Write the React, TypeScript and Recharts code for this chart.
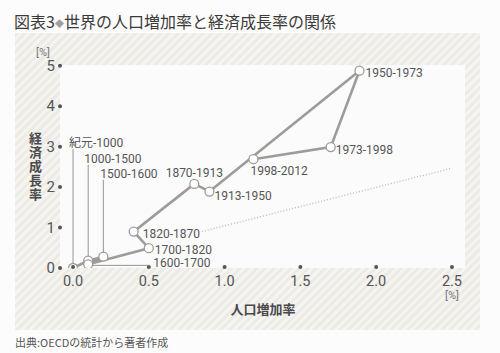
import React from 'react';
import { ComposedChart, Line, XAxis, YAxis, ReferenceArea } from 'recharts';

// 期間ごとの人口増加率・経済成長率 (%)
const PERIODS = ['紀元-1000', '1000-1500', '1500-1600', '1600-1700', '1700-1820', '1820-1870', '1870-1913', '1913-1950', '1950-1973', '1973-1998', '1998-2012'];
const POP_GROWTH = [0, 0.1, 0.2, 0.1, 0.5, 0.4, 0.8, 0.9, 1.89, 1.7, 1.19];
const GDP_GROWTH = [0, 0.18, 0.28, 0.09, 0.49, 0.9, 2.08, 1.89, 4.88, 2.99, 2.69];

// 点線（参考線）の両端
const TREND_X = [0.85, 2.5];
const TREND_Y = [0.9, 2.47];

const X_TICKS = [0, 0.5, 1, 1.5, 2, 2.5];
const Y_TICKS = [0, 1, 2, 3, 4, 5];

const X_DOMAIN: [number, number] = [-0.086, 2.586];
const Y_DOMAIN: [number, number] = [0, 5.02];

const points = PERIODS.map((period, i) => ({ period, x: POP_GROWTH[i], y: GDP_GROWTH[i] }));
const trend = TREND_X.map((x, i) => ({ x, y: TREND_Y[i] }));

// ラベルの置き方（点からのずれ）
const LABEL_PLACE: Record<string, { dx: number; dy: number; anchor?: string; leader?: 'up' | 'right'; len?: number }> = {
  '紀元-1000': { dx: -4, dy: -125, leader: 'up', len: 119 },
  '1000-1500': { dx: -4, dy: -102, leader: 'up', len: 96 },
  '1500-1600': { dx: -3, dy: -83, leader: 'up', len: 77 },
  '1600-1700': { dx: 65, dy: -1, leader: 'right', len: 61 },
  '1700-1820': { dx: 6, dy: 2 },
  '1820-1870': { dx: 9, dy: 2 },
  '1870-1913': { dx: 0, dy: -11, anchor: 'middle' },
  '1913-1950': { dx: 5, dy: 4 },
  '1950-1973': { dx: 6, dy: 2 },
  '1973-1998': { dx: 5, dy: 3 },
  '1998-2012': { dx: -3, dy: 12 },
};

const LINE_COLOR = '#9d9c98';
const TEXT_COLOR = '#4a4a4a';
const FONT = "Roboto, 'Noto Sans CJK JP', sans-serif";
const JP_FONT = "'Noto Sans CJK JP', sans-serif";

const PointLabel = (props: any) => {
  const { x, y, index } = props;
  const name = PERIODS[index];
  const p = LABEL_PLACE[name];
  if (!p) return null;
  return (
    <g>
      {p.leader === 'up' && (
        <line x1={x} y1={y - 4.5} x2={x} y2={y - (p.len || 0)} stroke="#8a8a8a" strokeWidth={0.9} />
      )}
      {p.leader === 'right' && (
        <line x1={x + 4.5} y1={y + 1} x2={x + (p.len || 0)} y2={y + 1} stroke="#8a8a8a" strokeWidth={0.9} />
      )}
      <text
        x={x + p.dx}
        y={y + p.dy}
        textAnchor={p.anchor || 'start'}
        dominantBaseline="central"
        fontSize={12}
        fontFamily={FONT}
        fill="#555"
      >
        {name}
      </text>
    </g>
  );
};

const YTick = (props: any) => {
  const { x, y, payload } = props;
  return (
    <g>
      <circle cx={x} cy={y} r={2} fill="#555" />
      <text x={x - 5} y={y} textAnchor="end" dominantBaseline="central" fontSize={15} fontFamily={FONT} fill="#555">
        {payload.value}
      </text>
    </g>
  );
};

const XTick = (props: any) => {
  const { x, y, payload } = props;
  return (
    <g>
      <circle cx={x} cy={y - 1} r={2} fill="#555" />
      <text x={x} y={y + 13} textAnchor="middle" dominantBaseline="central" fontSize={14.5} fontFamily={FONT} fill="#555">
        {Number(payload.value).toFixed(1)}
      </text>
    </g>
  );
};

export default function App() {
  return (
    <div style={{ position: 'absolute', left: 0, top: 0, width: 500, height: 353, background: '#fdfcfc', overflow: 'hidden' }}>
      <div
        style={{
          position: 'absolute',
          left: 15,
          top: 33,
          width: 465,
          height: 297,
          background: 'repeating-linear-gradient(135deg, #ecebe6 0px, #ecebe6 3px, #f5f4f1 3px, #f5f4f1 6px)',
        }}
      />
      <div style={{ position: 'absolute', left: 14, top: 10, fontFamily: JP_FONT, fontSize: 16, lineHeight: '22px', color: '#3a3a3a', whiteSpace: 'nowrap' }}>
        図表3<span style={{ fontSize: 9, color: '#a0a0a0', verticalAlign: 'middle' }}>◆</span>世界の人口増加率と経済成長率の関係
      </div>

      <ComposedChart width={500} height={353} margin={{ top: 65, right: 35, bottom: 0, left: 0 }} style={{ position: 'absolute', left: 0, top: 0 }}>
        <XAxis
          dataKey="x"
          type="number"
          domain={X_DOMAIN}
          ticks={X_TICKS}
          allowDataOverflow
          axisLine={false}
          tickLine={false}
          tickSize={0}
          tickMargin={0}
          height={85}
          tick={<XTick />}
        />
        <YAxis
          dataKey="y"
          type="number"
          domain={Y_DOMAIN}
          ticks={Y_TICKS}
          allowDataOverflow
          axisLine={false}
          tickLine={false}
          tickSize={0}
          tickMargin={0}
          width={60}
          tick={<YTick />}
        />
        <ReferenceArea x1={X_DOMAIN[0]} x2={X_DOMAIN[1]} y1={Y_DOMAIN[0]} y2={Y_DOMAIN[1]} fill="#fcfbfb" fillOpacity={1} stroke="none" />
        <Line
          data={trend}
          dataKey="y"
          stroke="#b8b6b2"
          strokeWidth={1.3}
          strokeDasharray="1 2"
          dot={false}
          isAnimationActive={false}
        />
        <Line
          data={points}
          dataKey="y"
          stroke={LINE_COLOR}
          strokeWidth={2.6}
          dot={{ r: 4.5, fill: '#ffffff', stroke: LINE_COLOR, strokeWidth: 1.3 }}
          label={<PointLabel />}
          isAnimationActive={false}
        />
      </ComposedChart>

      <div style={{ position: 'absolute', left: 36, top: 46, fontFamily: FONT, fontSize: 11, lineHeight: '14px', color: '#777' }}>[%]</div>
      <div style={{ position: 'absolute', left: 445, top: 290, fontFamily: FONT, fontSize: 11, lineHeight: '12px', color: '#777' }}>[%]</div>
      <div
        style={{
          position: 'absolute',
          left: 27,
          top: 132,
          height: 72,
          writingMode: 'vertical-rl',
          fontFamily: JP_FONT,
          fontSize: 13,
          fontWeight: 700,
          lineHeight: '16px',
          letterSpacing: 1,
          color: TEXT_COLOR,
        }}
      >
        経済成長率
      </div>
      <div style={{ position: 'absolute', left: 213, top: 300, width: 100, textAlign: 'center', fontFamily: JP_FONT, fontSize: 13, fontWeight: 700, lineHeight: '18px', color: TEXT_COLOR }}>
        人口増加率
      </div>
      <div style={{ position: 'absolute', left: 15, top: 334, fontFamily: JP_FONT, fontSize: 11, lineHeight: '16px', color: '#555', whiteSpace: 'nowrap' }}>
        出典:OECDの統計から著者作成
      </div>
    </div>
  );
}
